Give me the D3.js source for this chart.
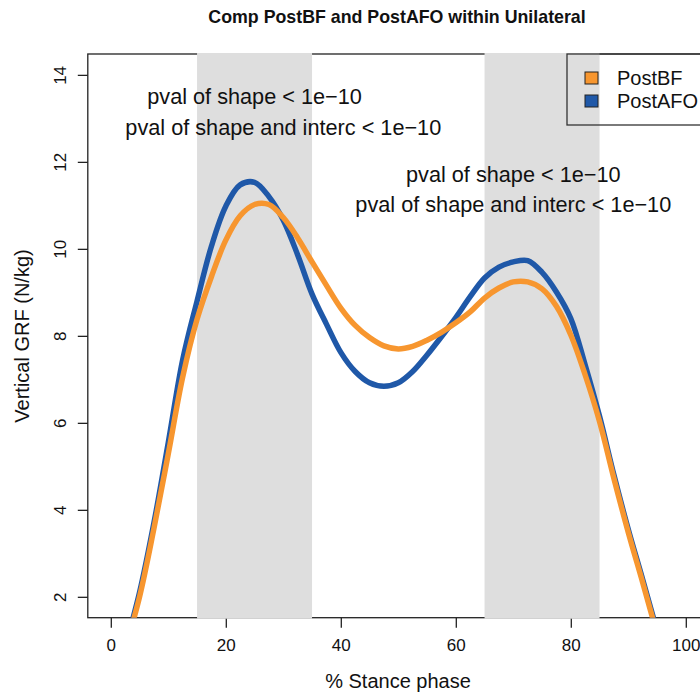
<!DOCTYPE html>
<html>
<head>
<meta charset="utf-8">
<script src="https://cdn.jsdelivr.net/npm/d3@7"></script>
<style>
  body { margin: 0; background: #fff; }
  svg text { font-family: "Liberation Sans", Arial, sans-serif; fill: #111; }
</style>
</head>
<body>
<svg id="chart"></svg>
<script>
// % stance phase sample points
const stancePct = [2.5, 5, 7.5, 10, 12.5, 15, 17.5, 20, 22.5, 25, 27.5, 30, 32.5, 35, 37.5, 40,
  42.5, 45, 47.5, 50, 52.5, 55, 57.5, 60, 62.5, 65, 67.5, 70, 72.5, 75, 77.5, 80,
  82.5, 85, 87.5, 90, 92.5, 95, 97.5];

// vertical GRF (N/kg)
const postBF = [0.8, 2.0, 3.57, 5.29, 7.05, 8.38, 9.36, 10.2, 10.76, 11.02, 11.02, 10.72, 10.25, 9.7, 9.16, 8.64,
  8.24, 7.96, 7.77, 7.7, 7.76, 7.9, 8.08, 8.3, 8.55, 8.87, 9.1, 9.24, 9.24, 9.08, 8.68, 8.02,
  7.1, 6.03, 4.72, 3.48, 2.33, 1.15, 0.0];
const postAFO = [0.85, 2.1, 3.7, 5.55, 7.45, 8.8, 10.06, 10.98, 11.47, 11.53, 11.2, 10.66, 9.86, 8.96, 8.27, 7.62,
  7.18, 6.92, 6.84, 6.92, 7.18, 7.56, 7.98, 8.42, 8.9, 9.33, 9.58, 9.7, 9.73, 9.46, 9.01, 8.4,
  7.33, 6.15, 4.8, 3.55, 2.4, 1.22, 0.05];

const seriesNames = ['PostBF', 'PostAFO'];
const seriesColors = ['#F7962F', '#1F58A8'];
const shadedBands = [[15, 35], [65, 85]];
const xTicks = [0, 20, 40, 60, 80, 100];
const yTicks = [2, 4, 6, 8, 10, 12, 14];
const pvalShape = 'pval of shape < 1e\u221210';
const pvalShapeInterc = 'pval of shape and interc < 1e\u221210';

class StanceChart {
  constructor(_config) {
    this.config = {
      parentElement: _config.parentElement,
      containerWidth: _config.containerWidth || 700,
      containerHeight: _config.containerHeight || 693,
      margin: _config.margin || {top: 54, right: -8.8, bottom: 75.3, left: 87.8}
    };
    this.initVis();
  }

  initVis() {
    let vis = this;
    vis.width = vis.config.containerWidth - vis.config.margin.left - vis.config.margin.right;
    vis.height = vis.config.containerHeight - vis.config.margin.top - vis.config.margin.bottom;

    // R style limits: data range padded by 4%
    vis.xScale = d3.scaleLinear().domain([-4, 104]).range([0, vis.width]);
    vis.yScale = d3.scaleLinear().domain([1.52, 14.48]).range([vis.height, 0]);

    vis.svg = d3.select(vis.config.parentElement)
        .attr('width', vis.config.containerWidth)
        .attr('height', vis.config.containerHeight);

    vis.svg.append('defs').append('clipPath').attr('id', 'plot-clip')
      .append('rect').attr('width', vis.width).attr('height', vis.height);

    vis.chart = vis.svg.append('g')
        .attr('transform', `translate(${vis.config.margin.left},${vis.config.margin.top})`);

    vis.renderVis();
  }

  renderVis() {
    let vis = this;

    // plot box
    vis.chart.append('rect')
        .attr('width', vis.width).attr('height', vis.height)
        .attr('fill', 'none').attr('stroke', '#222').attr('stroke-width', 1.3);

    // axes
    const xAxisG = vis.chart.append('g')
        .attr('transform', `translate(0,${vis.height})`)
        .call(d3.axisBottom(vis.xScale).tickValues(xTicks).tickSize(10).tickSizeOuter(0));
    xAxisG.select('.domain').remove();
    xAxisG.selectAll('line').attr('stroke', '#222').attr('stroke-width', 1.3);
    xAxisG.selectAll('text')
        .attr('y', 33).attr('dy', 0)
        .style('font-size', '17px').style('font-family', null).attr('fill', '#111');

    const yAxisG = vis.chart.append('g')
        .call(d3.axisLeft(vis.yScale).tickValues(yTicks).tickSize(10).tickSizeOuter(0));
    yAxisG.select('.domain').remove();
    yAxisG.selectAll('line').attr('stroke', '#222').attr('stroke-width', 1.3);
    yAxisG.selectAll('text')
        .attr('transform', 'rotate(-90)')
        .attr('x', 0).attr('y', -22).attr('dy', 0)
        .style('text-anchor', 'middle')
        .style('font-size', '17px').style('font-family', null).attr('fill', '#111');

    // shaded phases, drawn over the box like the original
    vis.chart.selectAll('.band')
        .data(shadedBands)
        .join('rect')
        .attr('class', 'band')
        .attr('x', d => vis.xScale(d[0]))
        .attr('width', d => vis.xScale(d[1]) - vis.xScale(d[0]))
        .attr('y', -1)
        .attr('height', vis.height + 2)
        .attr('fill', '#DEDEDE');

    // legend (no fill, box runs off the right edge)
    const legend = vis.svg.append('g');
    legend.append('rect')
        .attr('x', 567).attr('y', 54).attr('width', 142).attr('height', 71)
        .attr('fill', 'none').attr('stroke', '#333').attr('stroke-width', 1.3);
    seriesNames.forEach((name, i) => {
      legend.append('rect')
          .attr('x', 585).attr('y', 72 + i * 23).attr('width', 13).attr('height', 12)
          .attr('fill', seriesColors[i]).attr('stroke', '#222').attr('stroke-width', 1);
      legend.append('text')
          .attr('x', 617).attr('y', 85 + i * 23)
          .style('font-size', '20px')
          .text(name);
    });

    // curves
    const line = d3.line()
        .x((d, i) => vis.xScale(stancePct[i]))
        .y(d => vis.yScale(d))
        .curve(d3.curveCatmullRom);

    const curves = vis.chart.append('g').attr('clip-path', 'url(#plot-clip)');
    [postAFO, postBF].forEach(values => {
      const idx = values === postBF ? 0 : 1;
      curves.append('path')
          .datum(values)
          .attr('d', line)
          .attr('fill', 'none')
          .attr('stroke', seriesColors[idx])
          .attr('stroke-width', 5.5)
          .attr('stroke-linejoin', 'round');
    });

    // p-value annotations
    const notes = [[25, 13.5, pvalShape], [30, 12.8, pvalShapeInterc], [70, 11.72, pvalShape], [70, 11.03, pvalShapeInterc]];
    vis.chart.selectAll('.note')
        .data(notes)
        .join('text')
        .attr('class', 'note')
        .attr('x', d => vis.xScale(d[0]))
        .attr('y', d => vis.yScale(d[1]))
        .attr('dy', '0.35em')
        .style('text-anchor', 'middle')
        .style('font-size', '21.7px')
        .text(d => d[2]);

    // titles
    vis.svg.append('text')
        .attr('x', 397).attr('y', 23)
        .style('text-anchor', 'middle').style('font-size', '17.8px').style('font-weight', 'bold')
        .text('Comp PostBF and PostAFO within Unilateral');

    vis.svg.append('text')
        .attr('x', 398).attr('y', 688)
        .style('text-anchor', 'middle').style('font-size', '20px')
        .text('% Stance phase');

    vis.svg.append('text')
        .attr('transform', 'translate(29,336) rotate(-90)')
        .style('text-anchor', 'middle').style('font-size', '20px')
        .text('Vertical GRF (N/kg)');
  }
}

new StanceChart({parentElement: '#chart'});
</script>
</body>
</html>
